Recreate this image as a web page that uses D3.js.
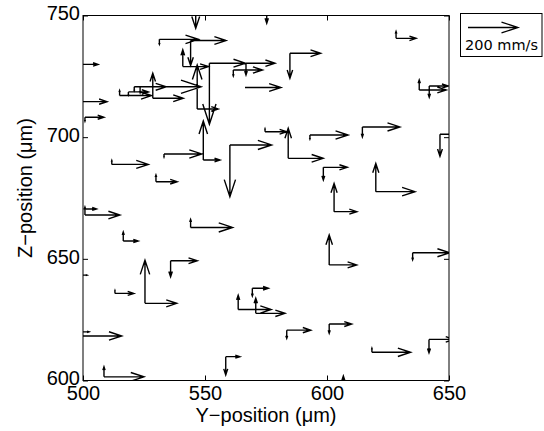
<!DOCTYPE html>
<html>
<head>
<meta charset="utf-8">
<script src="https://cdn.jsdelivr.net/npm/d3@7"></script>
<style>
  html, body { margin: 0; padding: 0; background: #fff; }
  svg { display: block; }
  .tick text { font-family: "Liberation Sans", Arial, Helvetica, sans-serif; font-size: 20px; fill: #000; }
  .tick line { stroke: #000; stroke-width: 1; }
</style>
</head>
<body>
<svg id="chart" width="544" height="431"></svg>
<script>
// Particle positions (µm) and velocity components (mm/s) in the Y–Z plane
const posY = [500, 500, 500.8, 546.2, 531.3, 544.1, 540.9, 546.8, 551.8, 561.6,
              566.8, 515.0, 518.6, 521.0, 523.4, 528.6, 566.4, 549.3, 560.2, 533.2,
              511.8, 529.9, 500.2, 500.8, 544.1, 516.5, 593.0, 614.5, 646.3, 598.5,
              620.0, 602.9, 600.9, 635.1, 575.3, 628.3, 584.8, 637.8, 641.9, 535.9,
              525.4, 513.1, 500, 500, 500, 508.6, 558.5, 563.6, 569.4, 570.8,
              583.5, 600.9, 618.4, 641.8, 606.7, 574.6, 584.1];
const posZ = [729.9, 714.6, 708.2, 759.5, 740.2, 739.7, 729.0, 711.6, 730.4, 727.6,
              730.4, 717.1, 718.6, 720.7, 720.7, 716.0, 720.4, 690.6, 696.8, 693.1,
              688.8, 681.7, 670.5, 668.0, 662.9, 657.3, 700.9, 704.2, 701.2, 687.6,
              677.6, 669.4, 647.5, 652.5, 753.0, 740.6, 734.5, 719.4, 721.0, 649.2,
              631.7, 635.8, 618.3, 620.0, 643.3, 601.5, 609.8, 629.2, 637.9, 627.6,
              620.7, 623.2, 611.6, 616.9, 595.7, 702.2, 691.3];
const velY = [60, 96, 76, 40, 156, 142, 103, 84, 144, 117,
              116, 128, 80, 128, 244, 122, 144, 67, 167, 151,
              146, 85, 52, 140, 168, 60, 153, 150, 80, 96,
              157, 91, 110, 148, 0, 80, 123, 108, 76, 107,
              127, 76, 155, 24, 16, 160, 57, 132, 64, 117,
              96, 90, 155, 100, 0, 87, 140];
const velZ = [0, 0, -16, -144, -20, -100, 67, 176, -244, -24,
              -47, 20, -12, -16, -24, 100, 0, 156, -207, -12,
              16, 27, 0, 32, 32, 36, -16, -40, -88, -51,
              113, 113, 120, -28, -60, 28, -100, 40, -45, -64,
              173, 12, 0, 0, 0, 40, -73, 57, -31, 60,
              -33, -37, 16, -54, 60, 12, 120];

const yTicks = [500, 550, 600, 650];
const zTicks = [600, 650, 700, 750];
const refSpeed = 200;
const refLabel = "200 mm/s";

const svg = d3.select("#chart");

const x = d3.scaleLinear().domain([500, 650]).range([83, 449]);
const z = d3.scaleLinear().domain([600, 750]).range([380.5, 15.5]);
// arrow length in pixels per mm/s
const speed = d3.scaleLinear().domain([0, refSpeed]).range([0, 50]);

const [x0, x1] = x.range();
const [zb, zt] = z.range();

// quiver-style arrow: shaft plus two open barbs
function arrow(p, sx, sy, dx, dy) {
  const ex = sx + dx, ey = sy + dy;
  const a = 0.33, b = 0.33;
  p.moveTo(sx, sy);
  p.lineTo(ex, ey);
  p.moveTo(ex - a * (dx + b * dy), ey - a * (dy - b * dx));
  p.lineTo(ex, ey);
  p.lineTo(ex - a * (dx - b * dy), ey - a * (dy + b * dx));
}

svg.append("defs").append("clipPath").attr("id", "plotclip")
  .append("rect").attr("x", x0).attr("y", zt).attr("width", x1 - x0).attr("height", zb - zt);

const field = svg.append("g").attr("clip-path", "url(#plotclip)");

const idx = d3.range(posY.length);
const pth = d3.path();
idx.forEach(i => {
  const sx = x(posY[i]), sy = z(posZ[i]);
  if (velY[i] !== 0) arrow(pth, sx, sy, speed(velY[i]), 0);
  if (velZ[i] !== 0) arrow(pth, sx, sy, 0, -speed(velZ[i]));
});
field.append("path")
  .attr("d", pth.toString())
  .attr("fill", "none")
  .attr("stroke", "#000")
  .attr("stroke-width", 1.4)
  .attr("stroke-linejoin", "miter");

// axes with inward ticks on all four sides
const gx = svg.append("g").attr("transform", `translate(0,${zb})`)
  .call(d3.axisBottom(x).tickValues(yTicks).tickSizeInner(-5).tickSizeOuter(0).tickPadding(5).tickFormat(d3.format("d")));
const gxt = svg.append("g").attr("transform", `translate(0,${zt})`)
  .call(d3.axisTop(x).tickValues(yTicks).tickSizeInner(-5).tickSizeOuter(0).tickFormat(""));
const gy = svg.append("g").attr("transform", `translate(${x0},0)`)
  .call(d3.axisLeft(z).tickValues(zTicks).tickSizeInner(-5).tickSizeOuter(0).tickPadding(3).tickFormat(d3.format("d")));
const gyr = svg.append("g").attr("transform", `translate(${x1},0)`)
  .call(d3.axisRight(z).tickValues(zTicks).tickSizeInner(-5).tickSizeOuter(0).tickFormat(""));
[gx, gxt, gy, gyr].forEach(g => g.select(".domain").remove());
gx.selectAll(".tick text").attr("dy", "0.72em");
gy.selectAll(".tick text").attr("dy", "0.22em");

svg.append("rect")
  .attr("x", x0).attr("y", zt).attr("width", x1 - x0).attr("height", zb - zt)
  .attr("fill", "none").attr("stroke", "#000").attr("stroke-width", 1);

// axis titles
svg.append("text")
  .attr("x", (x0 + x1) / 2).attr("y", 422)
  .attr("text-anchor", "middle")
  .style("font-family", '"Liberation Sans", Arial, sans-serif')
  .style("font-size", "20px")
  .text("Y\u2212position (\u03BCm)");
svg.append("text")
  .attr("transform", "translate(32,188) rotate(-90)")
  .attr("text-anchor", "middle")
  .style("font-family", '"Liberation Sans", Arial, sans-serif')
  .style("font-size", "20px")
  .text("Z\u2212position (\u03BCm)");

// reference arrow key
const key = svg.append("g");
key.append("rect")
  .attr("x", 460.5).attr("y", 13.5).attr("width", 81.5).attr("height", 43)
  .attr("fill", "#fff").attr("stroke", "#000").attr("stroke-width", 1);
const kp = d3.path();
arrow(kp, 468, 27.5, speed(refSpeed), 0);
key.append("path").attr("d", kp.toString())
  .attr("fill", "none").attr("stroke", "#000").attr("stroke-width", 1.3);
key.append("text")
  .attr("x", 465).attr("y", 49.5)
  .style("font-family", '"DejaVu Sans", sans-serif')
  .style("font-size", "14.5px")
  .text(refLabel);
</script>
</body>
</html>
